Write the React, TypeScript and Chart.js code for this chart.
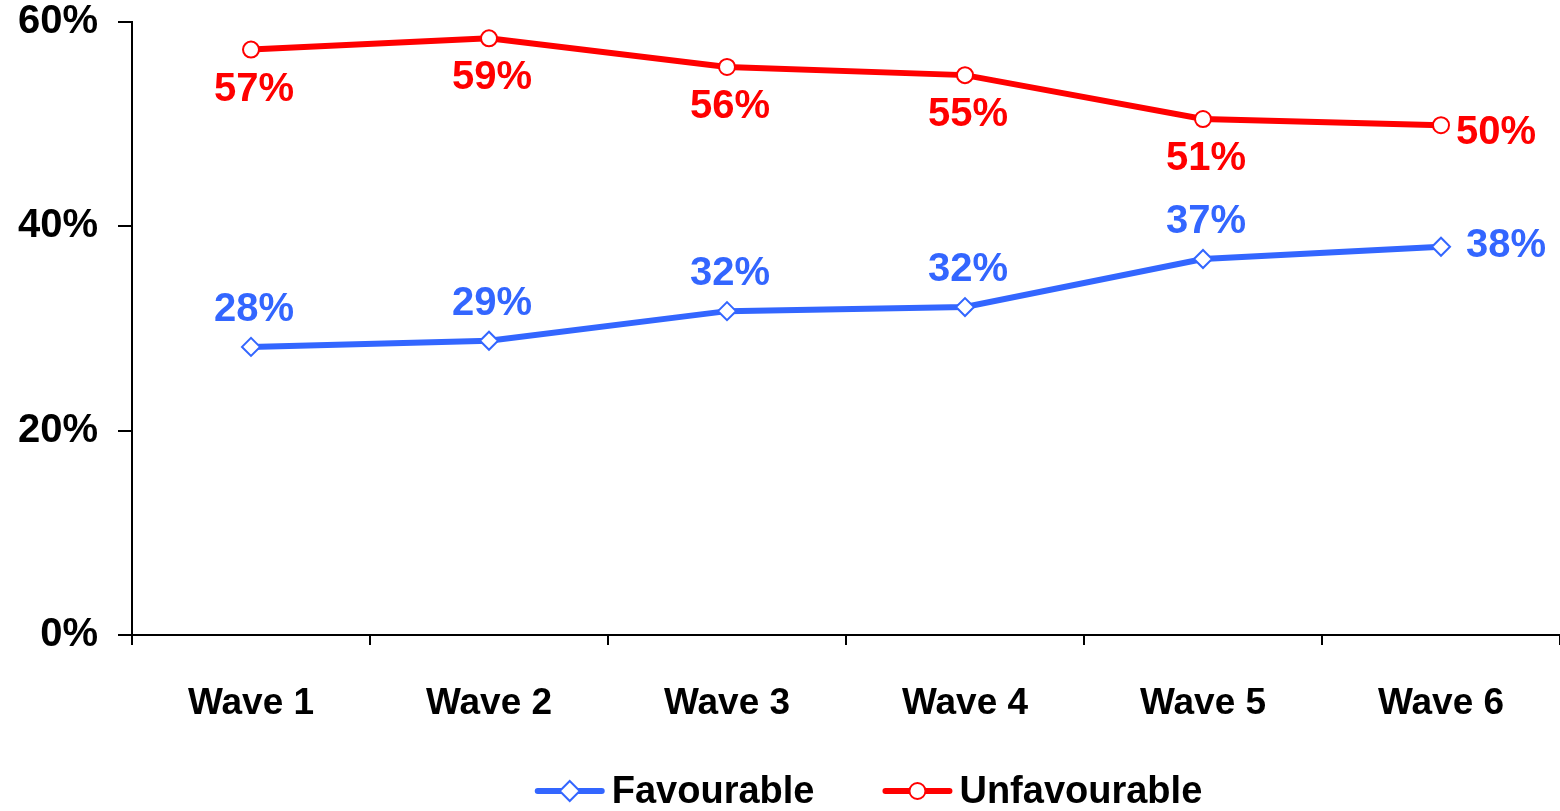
import React, { useEffect, useRef } from "react";
import { Chart, registerables } from "chart.js";

Chart.register(...registerables);

const categories = ["Wave 1", "Wave 2", "Wave 3", "Wave 4", "Wave 5", "Wave 6"];
const favourable = [28.2, 28.8, 31.7, 32.1, 36.8, 38.0];
const unfavourable = [57.3, 58.4, 55.6, 54.8, 50.5, 49.9];
const favourableLabels = ["28%", "29%", "32%", "32%", "37%", "38%"];
const unfavourableLabels = ["57%", "59%", "56%", "55%", "51%", "50%"];
const yTicks = [0, 20, 40, 60];

const FONT = '"Liberation Sans", Arial, Helvetica, sans-serif';
const BLUE = "#3366FF";
const RED = "#FF0000";

const dataLabelPlugin = {
  id: "dataLabels",
  afterDatasetsDraw(chart: any) {
    const ctx = chart.ctx;
    ctx.save();
    ctx.font = `bold 40px ${FONT}`;
    chart.data.datasets.forEach((ds: any, di: number) => {
      const meta = chart.getDatasetMeta(di);
      const labels: string[] = ds.valueLabels;
      const above = ds.labelSide === "above";
      ctx.fillStyle = ds.borderColor;
      meta.data.forEach((pt: any, i: number) => {
        const last = i === meta.data.length - 1;
        const text = labels[i];
        ctx.textBaseline = "middle";
        if (last) {
          ctx.textAlign = "left";
          ctx.fillText(text, pt.x + (above ? 25 : 15), pt.y + (above ? -1 : 8));
        } else {
          ctx.textAlign = "center";
          ctx.fillText(text, pt.x + 3, pt.y + (above ? -37 : 40));
        }
      });
    });
    ctx.restore();
  },
};

const legendPlugin = {
  id: "customLegend",
  afterDraw(chart: any) {
    const ctx = chart.ctx;
    ctx.save();
    ctx.font = `bold 38px ${FONT}`;
    const items = chart.data.datasets.map((ds: any) => ({
      ds,
      w: ctx.measureText(ds.label).width,
    }));
    const lineW = 64;
    const gapText = 10;
    const gapItems = 71;
    let total = 0;
    items.forEach((it: any, i: number) => {
      total += lineW + gapText + it.w + (i < items.length - 1 ? gapItems : 0);
    });
    const ca = chart.chartArea;
    let x = (ca.left + ca.right) / 2 + 24 - total / 2;
    const y = 791;
    items.forEach((it: any) => {
      const ds = it.ds;
      ctx.strokeStyle = ds.borderColor;
      ctx.lineWidth = 6;
      ctx.lineCap = "round";
      ctx.beginPath();
      ctx.moveTo(x, y);
      ctx.lineTo(x + lineW, y);
      ctx.stroke();
      const cx = x + lineW / 2;
      ctx.fillStyle = "#ffffff";
      ctx.lineWidth = 2;
      ctx.beginPath();
      if (ds.pointStyle === "circle") {
        ctx.arc(cx, y, 8, 0, Math.PI * 2);
      } else {
        const r = 10;
        ctx.moveTo(cx, y - r);
        ctx.lineTo(cx + r, y);
        ctx.lineTo(cx, y + r);
        ctx.lineTo(cx - r, y);
        ctx.closePath();
      }
      ctx.fill();
      ctx.stroke();
      ctx.fillStyle = "#000000";
      ctx.textAlign = "left";
      ctx.textBaseline = "alphabetic";
      ctx.fillText(ds.label, x + lineW + gapText, 803);
      x += lineW + gapText + it.w + gapItems;
    });
    ctx.restore();
  },
};

export default function App() {
  const ref = useRef<HTMLCanvasElement>(null);
  useEffect(() => {
    if (!ref.current) return;
    const chart = new Chart(ref.current, {
      type: "line",
      data: {
        labels: categories,
        datasets: [
          {
            label: "Favourable",
            data: favourable,
            borderColor: BLUE,
            backgroundColor: "#ffffff",
            borderWidth: 6,
            pointStyle: "rectRot",
            pointRadius: 9,
            pointBorderWidth: 2,
            pointBackgroundColor: "#ffffff",
            pointBorderColor: BLUE,
            tension: 0,
            valueLabels: favourableLabels,
            labelSide: "above",
          } as any,
          {
            label: "Unfavourable",
            data: unfavourable,
            borderColor: RED,
            backgroundColor: "#ffffff",
            borderWidth: 6,
            pointStyle: "circle",
            pointRadius: 8,
            pointBorderWidth: 2,
            pointBackgroundColor: "#ffffff",
            pointBorderColor: RED,
            tension: 0,
            valueLabels: unfavourableLabels,
            labelSide: "below",
          } as any,
        ],
      },
      options: {
        animation: false,
        responsive: false,
        devicePixelRatio: 1,
        layout: { padding: { top: 22, right: 0, bottom: 0, left: 0 } },
        plugins: {
          legend: { display: false },
          tooltip: { enabled: false },
        },
        scales: {
          x: {
            type: "category",
            offset: true,
            grid: {
              offset: true,
              drawOnChartArea: false,
              drawTicks: true,
              tickLength: 10,
              color: "#000000",
              lineWidth: 2,
            },
            border: { display: true, color: "#000000", width: 2 },
            ticks: {
              color: "#000000",
              font: { family: FONT, size: 37, weight: "bold", lineHeight: 3.2 },
              padding: 0,
              maxRotation: 0,
              autoSkip: false,
            },
            afterFit(scale: any) {
              scale.height = 811 - 635;
            },
          },
          y: {
            min: 0,
            max: 60,
            afterBuildTicks(scale: any) {
              scale.ticks = yTicks.map((v) => ({ value: v }));
            },
            grid: {
              drawOnChartArea: false,
              drawTicks: true,
              tickLength: 14,
              color: "#000000",
              lineWidth: 2,
            },
            border: { display: true, color: "#000000", width: 2 },
            ticks: {
              color: "#000000",
              font: { family: FONT, size: 40, weight: "bold", lineHeight: 0.05 },
              padding: 20,
              callback: (v: any) => `${v}%`,
            },
            afterFit(scale: any) {
              scale.width = 132;
            },
          },
        },
      } as any,
      plugins: [dataLabelPlugin, legendPlugin],
    });
    return () => chart.destroy();
  }, []);
  return (
    <div style={{ position: "absolute", left: 0, top: 0, width: 1560, height: 811, overflow: "hidden", background: "#fff" }}>
      <canvas ref={ref} width={1571} height={811} style={{ display: "block" }} />
    </div>
  );
}
